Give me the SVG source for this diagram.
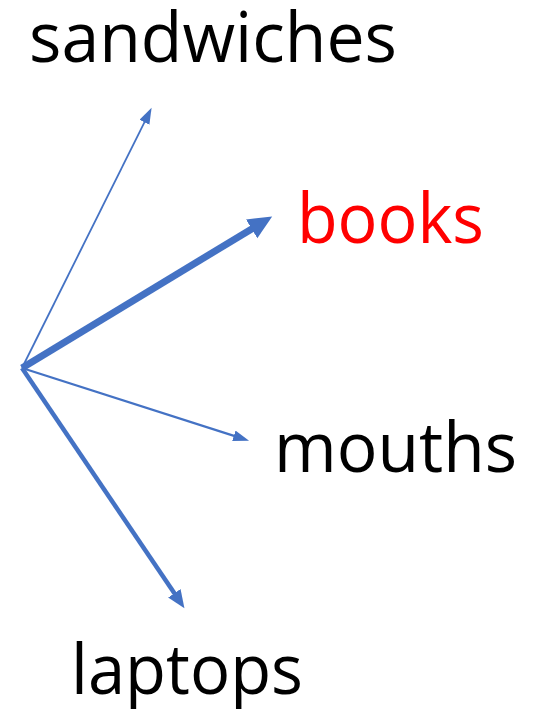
<svg xmlns="http://www.w3.org/2000/svg" width="539" height="709" viewBox="0 0 539 709">
<style>
.lbl{font-family:"Open Sans","Liberation Sans",sans-serif;font-size:70px;fill:#000}
.red{fill:#FF0000}
.arr{stroke:#4472C4;fill:none;stroke-linecap:butt}
</style>
<defs>
<marker id="hs" markerUnits="userSpaceOnUse" markerWidth="17" markerHeight="12" refX="1" refY="5.5" orient="auto"><path d="M0,0 L16,5.5 L0,11 Z" fill="#4472C4"/></marker>
<marker id="hb" markerUnits="userSpaceOnUse" markerWidth="25" markerHeight="23" refX="1" refY="11" orient="auto"><path d="M0,0 L24,11 L0,22 Z" fill="#4472C4"/></marker>
<marker id="hl" markerUnits="userSpaceOnUse" markerWidth="19" markerHeight="16" refX="1" refY="7.5" orient="auto"><path d="M0,0 L18,7.5 L0,15 Z" fill="#4472C4"/></marker>
</defs>
<g id="connectors">
<line class="arr" x1="22" y1="368" x2="144.9" y2="121.3" stroke-width="1.8" marker-end="url(#hs)"/>
<line class="arr" x1="22" y1="368" x2="252.5" y2="228.4" stroke-width="7" marker-end="url(#hb)"/>
<line class="arr" x1="22" y1="368" x2="234.8" y2="436.1" stroke-width="2.2" marker-end="url(#hs)"/>
<line class="arr" x1="22" y1="368" x2="174.9" y2="594.1" stroke-width="4.5" marker-end="url(#hl)"/>
</g>
<g id="sandwiches"><text class="lbl" x="29" y="62" textLength="368" lengthAdjust="spacingAndGlyphs">sandwiches</text></g>
<g id="books"><text class="lbl red" x="297" y="243" textLength="187" lengthAdjust="spacingAndGlyphs">books</text></g>
<g id="mouths"><text class="lbl" x="274" y="472" textLength="243" lengthAdjust="spacingAndGlyphs">mouths</text></g>
<g id="laptops"><text class="lbl" x="71" y="694" textLength="232" lengthAdjust="spacingAndGlyphs">laptops</text></g>
</svg>
